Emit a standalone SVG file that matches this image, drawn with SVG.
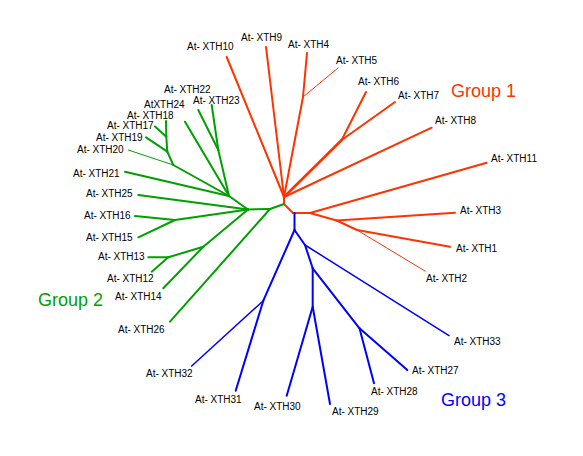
<svg xmlns="http://www.w3.org/2000/svg" width="583" height="456" viewBox="0 0 583 456">
<style>
.r{stroke:#ff3300;fill:none;stroke-width:2;stroke-linecap:round}
.g{stroke:#00a000;fill:none;stroke-width:2;stroke-linecap:round}
.b{stroke:#0000ff;fill:none;stroke-width:2;stroke-linecap:round}
.t{stroke-width:1}
.m{stroke-width:1.5}
.k{stroke-width:2.6}
text{font-family:"Liberation Sans",Arial,sans-serif;font-size:10px;fill:#000}
.grp{font-size:18px}
</style>
<rect width="583" height="456" fill="#fff"/>
<g id="connectors">
<g id="group1-edges">
<line class="r" x1="284" y1="204" x2="284" y2="197"/>
<line class="r" x1="284" y1="197" x2="226.7" y2="57"/>
<line class="r" x1="284" y1="197" x2="266" y2="47"/>
<line class="r" x1="284" y1="197" x2="303" y2="97"/>
<line class="r" x1="303" y1="97" x2="307" y2="53"/>
<line class="r t" x1="303" y1="97" x2="338" y2="68"/>
<line class="r k" x1="284" y1="197" x2="341.7" y2="140"/>
<line class="r" x1="341.7" y1="140" x2="366" y2="92"/>
<line class="r" x1="341.7" y1="140" x2="395" y2="102"/>
<line class="r" x1="284" y1="197" x2="431.7" y2="127.7"/>
<line class="r" x1="284" y1="204" x2="293" y2="213"/>
<line class="r" x1="293" y1="213" x2="310" y2="213"/>
<line class="r" x1="310" y1="213" x2="486.7" y2="162.7"/>
<line class="r" x1="310" y1="213" x2="336.7" y2="220.5"/>
<line class="r" x1="336.7" y1="220.5" x2="455" y2="212.7"/>
<line class="r" x1="336.7" y1="220.5" x2="357" y2="230"/>
<line class="r" x1="357" y1="230" x2="450" y2="246.7"/>
<line class="r t" x1="357" y1="230" x2="425" y2="271"/>
</g>
<g id="group3-edges">
<line class="b" x1="294.5" y1="213" x2="294.5" y2="230"/>
<line class="b" x1="294.5" y1="230" x2="263.3" y2="300.7"/>
<line class="b m" x1="263.3" y1="300.7" x2="191.7" y2="366"/>
<line class="b" x1="263.3" y1="300.7" x2="235.7" y2="390.7"/>
<line class="b" x1="294.5" y1="230" x2="305" y2="245"/>
<line class="b m" x1="305" y1="245" x2="449" y2="335.7"/>
<line class="b" x1="305" y1="245" x2="312.7" y2="268.3"/>
<line class="b" x1="312.7" y1="268.3" x2="312.7" y2="306.7"/>
<line class="b" x1="312.7" y1="306.7" x2="286.7" y2="395.7"/>
<line class="b" x1="312.7" y1="306.7" x2="330" y2="404"/>
<line class="b" x1="312.7" y1="268.3" x2="359.5" y2="328.3"/>
<line class="b" x1="359.5" y1="328.3" x2="407.3" y2="370"/>
<line class="b" x1="359.5" y1="328.3" x2="374" y2="383.3"/>
</g>
<g id="group2-edges">
<line class="g" x1="284" y1="204" x2="270" y2="209"/>
<line class="g" x1="270" y1="209" x2="248" y2="209.5"/>
<line class="g" x1="270" y1="209" x2="170" y2="321.7"/>
<line class="g" x1="248" y1="209.5" x2="203.3" y2="246.7"/>
<line class="g" x1="203.3" y1="246.7" x2="163.3" y2="288.3"/>
<line class="g" x1="203.3" y1="246.7" x2="168.3" y2="257.3"/>
<line class="g" x1="168.3" y1="257.3" x2="148.3" y2="257.3"/>
<line class="g" x1="168.3" y1="257.3" x2="151.7" y2="271.7"/>
<line class="g" x1="248" y1="209.5" x2="175" y2="220"/>
<line class="g" x1="175" y1="220" x2="135" y2="216"/>
<line class="g" x1="175" y1="220" x2="138.3" y2="237.3"/>
<line class="g" x1="248" y1="209.5" x2="138.3" y2="195"/>
<line class="g" x1="248" y1="209.5" x2="229" y2="196"/>
<line class="g" x1="229" y1="196" x2="125" y2="171.7"/>
<line class="g" x1="229" y1="196" x2="173.3" y2="165"/>
<line class="g t" x1="173.3" y1="165" x2="128.3" y2="150"/>
<line class="g" x1="173.3" y1="165" x2="167.3" y2="151.7"/>
<line class="g" x1="167.3" y1="151.7" x2="146" y2="137.3"/>
<line class="g" x1="167.3" y1="151.7" x2="166.3" y2="136.7"/>
<line class="g" x1="166.3" y1="136.7" x2="166" y2="121"/>
<line class="g" x1="166.3" y1="136.7" x2="155" y2="126.5"/>
<line class="g" x1="229" y1="196" x2="218.3" y2="150"/>
<line class="g" x1="218.3" y1="150" x2="198.3" y2="110"/>
<line class="g" x1="218.3" y1="150" x2="211.7" y2="105"/>
<line class="g" x1="229" y1="196" x2="185" y2="121.7"/>
</g>
</g>
<g id="n-XTH10"><text x="187" y="50">At- XTH10</text></g>
<g id="n-XTH9"><text x="241" y="41">At- XTH9</text></g>
<g id="n-XTH4"><text x="288" y="48">At- XTH4</text></g>
<g id="n-XTH5"><text x="336" y="64">At- XTH5</text></g>
<g id="n-XTH6"><text x="358" y="85">At- XTH6</text></g>
<g id="n-XTH7"><text x="398" y="99">At- XTH7</text></g>
<g id="n-XTH8"><text x="435" y="124">At- XTH8</text></g>
<g id="n-XTH11"><text x="491" y="162">At- XTH11</text></g>
<g id="n-XTH3"><text x="460" y="214">At- XTH3</text></g>
<g id="n-XTH1"><text x="456" y="252">At- XTH1</text></g>
<g id="n-XTH2"><text x="426" y="282">At- XTH2</text></g>
<g id="n-XTH33"><text x="454" y="345">At- XTH33</text></g>
<g id="n-XTH27"><text x="412" y="374">At- XTH27</text></g>
<g id="n-XTH28"><text x="371" y="395">At- XTH28</text></g>
<g id="n-XTH29"><text x="332" y="415">At- XTH29</text></g>
<g id="n-XTH30"><text x="254" y="410">At- XTH30</text></g>
<g id="n-XTH31"><text x="195" y="403">At- XTH31</text></g>
<g id="n-XTH32"><text x="146" y="377">At- XTH32</text></g>
<g id="n-XTH26"><text x="118" y="333">At- XTH26</text></g>
<g id="n-XTH14"><text x="115" y="300">At- XTH14</text></g>
<g id="n-XTH12"><text x="107" y="282">At- XTH12</text></g>
<g id="n-XTH13"><text x="98" y="260">At- XTH13</text></g>
<g id="n-XTH15"><text x="86" y="241">At- XTH15</text></g>
<g id="n-XTH16"><text x="84" y="219">At- XTH16</text></g>
<g id="n-XTH25"><text x="86" y="197">At- XTH25</text></g>
<g id="n-XTH21"><text x="73" y="177">At- XTH21</text></g>
<g id="n-XTH20"><text x="77" y="153">At- XTH20</text></g>
<g id="n-XTH19"><text x="96" y="141">At- XTH19</text></g>
<g id="n-XTH17"><text x="107" y="129">At- XTH17</text></g>
<g id="n-XTH18"><text x="127" y="119">At- XTH18</text></g>
<g id="n-XTH24"><text x="144" y="108">AtXTH24</text></g>
<g id="n-XTH22"><text x="164" y="93">At- XTH22</text></g>
<g id="n-XTH23"><text x="193" y="104">At- XTH23</text></g>
<g id="group1-label"><text class="grp" x="451" y="97" fill="#ff3300" style="fill:#ff3300">Group 1</text></g>
<g id="group2-label"><text class="grp" x="38" y="306" style="fill:#00a000">Group 2</text></g>
<g id="group3-label"><text class="grp" x="441" y="406" style="fill:#0000ff">Group 3</text></g>
</svg>
